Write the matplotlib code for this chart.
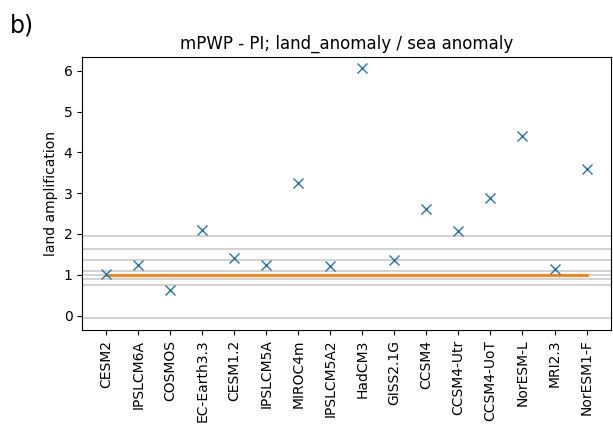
import matplotlib
matplotlib.use("Agg")
import matplotlib.pyplot as plt

models = ['CESM2', 'IPSLCM6A', 'COSMOS', 'EC-Earth3.3', 'CESM1.2', 'IPSLCM5A',
          'MIROC4m', 'IPSLCM5A2', 'HadCM3', 'GISS2.1G', 'CCSM4', 'CCSM4-Utr',
          'CCSM4-UoT', 'NorESM-L', 'MRI2.3', 'NorESM1-F']
amplification = [1.02, 1.24, 0.63, 2.10, 1.42, 1.24, 3.26, 1.22, 6.07, 1.35,
                 2.61, 2.08, 2.89, 4.40, 1.14, 3.60]
ref_lines = [-0.06, 0.75, 0.89, 1.0, 1.08, 1.35, 1.63, 1.96]
one_line = [1.0] * len(models)

fig = plt.figure(figsize=(6.13, 4.34), dpi=100)
ax = fig.add_axes([0.134, 0.24, 0.862, 0.629])

for y in ref_lines:
    ax.axhline(y, color='lightgrey', lw=1.5, zorder=1)

x = list(range(len(models)))
ax.plot(x, one_line, color='tab:orange', lw=2, zorder=2)
ax.plot(x, amplification, 'x', color='tab:blue', markersize=6.5, zorder=3)

ax.set_xticks(x)
ax.set_xticklabels(models, rotation=90)
ax.set_ylim(-0.35, 6.34)
ax.set_ylabel('land amplification')
ax.set_title('mPWP - PI; land_anomaly / sea anomaly')
fig.text(0.016, 0.925, 'b)', fontsize=17)

fig.savefig('out.png', dpi=100)
